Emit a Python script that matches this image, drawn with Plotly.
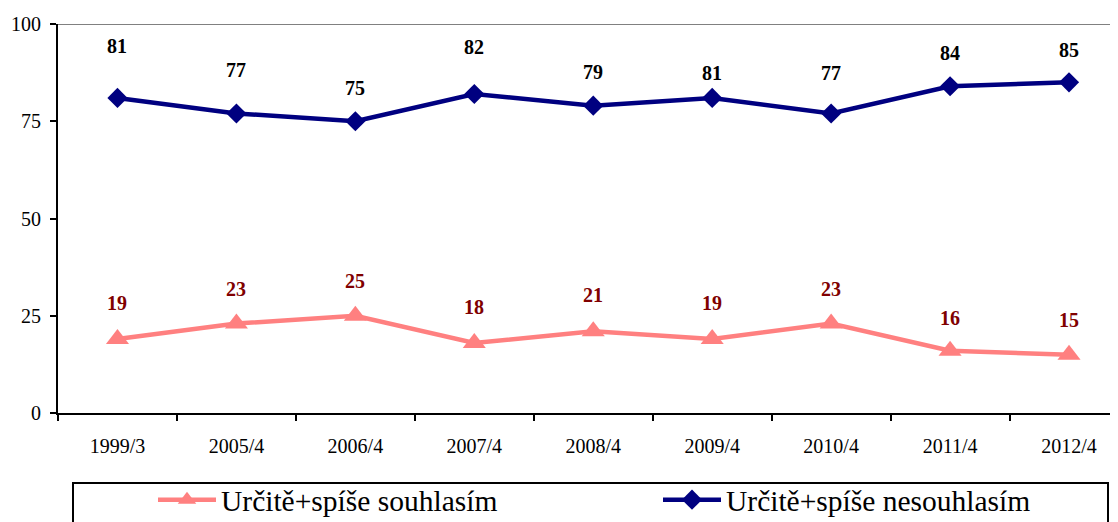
import plotly.graph_objects as go

categories = ["1999/3", "2005/4", "2006/4", "2007/4", "2008/4", "2009/4", "2010/4", "2011/4", "2012/4"]
agree = [19, 23, 25, 18, 21, 19, 23, 16, 15]
disagree = [81, 77, 75, 82, 79, 81, 77, 84, 85]
name_agree = "Určitě+spíše souhlasím"
name_disagree = "Určitě+spíše nesouhlasím"

# label vertical offsets (px) above markers, as placed in the reference
dy_agree = [36, 35, 35, 36, 36, 36, 35, 33, 35]
dy_disagree = [52, 43, 33, 47, 34, 25, 40, 33, 32]

SERIF = "Liberation Serif, Times New Roman, serif"
OFF = 8  # page body margin
W, H = 1118 - OFF, 522 - OFF
PL, PR, PT, PB = 58, 1118, 24, 413  # plot area in page pixels
L, T = PL - OFF, PT - OFF
R = 0
B = H - (PB - OFF)

plot_w = PR - PL
plot_h = PB - PT
def px_x(p):
    return (p - PL) / plot_w
def px_y(p):
    return (PB - p) / plot_h

fig = go.Figure()
fig.add_trace(go.Scatter(
    x=categories, y=agree, name=name_agree, mode="lines+markers",
    line=dict(color="#FF8080", width=4.5),
    marker=dict(symbol="triangle-up", size=20, color="#FF8080"),
    legend="legend",
))
fig.add_trace(go.Scatter(
    x=categories, y=disagree, name=name_disagree, mode="lines+markers",
    line=dict(color="#000080", width=4.5),
    marker=dict(symbol="diamond", size=15.5, color="#000080"),
    legend="legend2",
))

annotations = []
for c, v, d in zip(categories, agree, dy_agree):
    annotations.append(dict(x=c, y=v, text=str(v), showarrow=False, yshift=d,
                            font=dict(family=SERIF, size=20, color="#800000", weight="bold")))
for c, v, d in zip(categories, disagree, dy_disagree):
    annotations.append(dict(x=c, y=v, text=str(v), showarrow=False, yshift=d,
                            font=dict(family=SERIF, size=20, color="#000000", weight="bold")))

right_idx = (PR - 117) / 119.0

legend_common = dict(
    orientation="h", xanchor="left", yanchor="middle", y=px_y(500),
    font=dict(family=SERIF, size=29.5, color="black"),
    bgcolor="rgba(0,0,0,0)", borderwidth=0, itemwidth=58,
)

fig.update_layout(
    width=W, height=H,
    margin=dict(l=L, r=R, t=T, b=B, autoexpand=False),
    paper_bgcolor="white", plot_bgcolor="white",
    showlegend=True,
    legend=dict(x=px_x(153), **legend_common),
    legend2=dict(x=px_x(658), **legend_common),
    xaxis=dict(
        type="category", range=[-0.5, right_idx],
        showline=True, linecolor="black", linewidth=2,
        ticks="outside", ticklen=6, tickwidth=2, tickcolor="black",
        tickson="boundaries", showgrid=False, zeroline=False,
        tickfont=dict(family=SERIF, size=20, color="black"),
        ticklabelstandoff=14,
    ),
    yaxis=dict(
        range=[0, 100], dtick=25, tick0=0,
        showline=True, linecolor="black", linewidth=2,
        ticks="outside", ticklen=6, tickwidth=2, tickcolor="black",
        showgrid=False, zeroline=False,
        tickfont=dict(family=SERIF, size=20, color="black"),
        ticklabelstandoff=5,
    ),
    annotations=annotations,
    shapes=[
        dict(type="line", xref="paper", yref="y", x0=0, x1=1, y0=100, y1=100,
             line=dict(color="#808080", width=2), layer="below"),
        dict(type="rect", xref="paper", yref="paper",
             x0=px_x(73), x1=px_x(1108), y0=px_y(483), y1=px_y(540),
             line=dict(color="black", width=2), fillcolor="rgba(0,0,0,0)"),
    ],
)

fig.write_html("out.html")
